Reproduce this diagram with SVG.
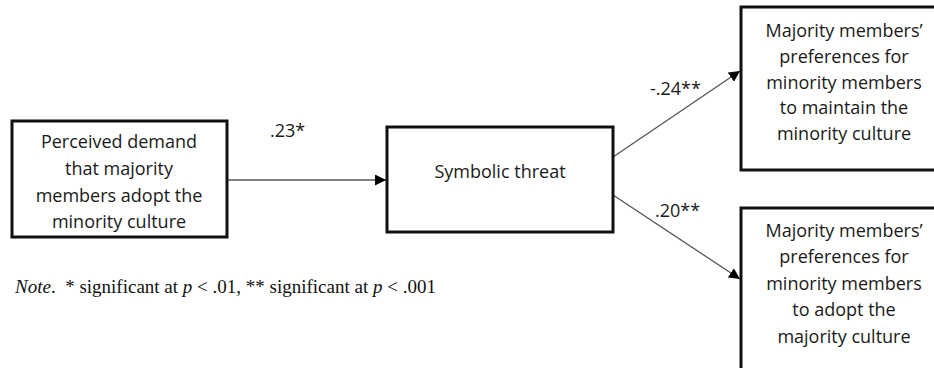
<svg xmlns="http://www.w3.org/2000/svg" width="934" height="368" viewBox="0 0 934 368">
<defs>
<marker id="arr" markerUnits="userSpaceOnUse" markerWidth="12" markerHeight="11" refX="11" refY="5.5" orient="auto">
<path d="M0,0 L11,5.5 L0,11 z" fill="#000"/>
</marker>
</defs>
<style>
.box{fill:#fff;stroke:#111;stroke-width:3}
.t{font-family:"Open Sans","Noto Sans",sans-serif;font-size:18px;fill:#1a1a1a;text-anchor:middle}
.lab{font-family:"Open Sans","Noto Sans",sans-serif;font-size:18px;fill:#1a1a1a}
.c{stroke:#555;stroke-width:1.3;fill:none;marker-end:url(#arr)}
.note{font-family:"Liberation Serif","Times New Roman",serif;font-size:19px;fill:#111}
</style>
<rect width="934" height="368" fill="#fff"/>
<g id="connectors">
<line class="c" x1="227" y1="180" x2="386" y2="180"/>
<line class="c" x1="613" y1="157" x2="740" y2="71"/>
<line class="c" x1="613" y1="195" x2="740" y2="279"/>
<text class="lab" x="270" y="137">.23*</text>
<text class="lab" x="650" y="95">-.24**</text>
<text class="lab" x="655" y="217">.20**</text>
</g>
<g id="demand">
<rect class="box" x="12" y="121" width="215" height="116"/>
<text class="t" x="119" y="148">Perceived demand</text>
<text class="t" x="119" y="175">that majority</text>
<text class="t" x="119" y="202">members adopt the</text>
<text class="t" x="119" y="228">minority culture</text>
</g>
<g id="threat">
<rect class="box" x="387" y="127" width="226" height="105"/>
<text class="t" x="500" y="178">Symbolic threat</text>
</g>
<g id="maintain">
<rect class="box" x="741" y="7" width="220" height="163"/>
<text class="t" x="844" y="37">Majority members’</text>
<text class="t" x="844" y="63">preferences for</text>
<text class="t" x="844" y="89">minority members</text>
<text class="t" x="844" y="114">to maintain the</text>
<text class="t" x="844" y="140">minority culture</text>
</g>
<g id="adopt">
<rect class="box" x="741" y="208" width="220" height="190"/>
<text class="t" x="844" y="237">Majority members’</text>
<text class="t" x="844" y="263">preferences for</text>
<text class="t" x="844" y="290">minority members</text>
<text class="t" x="844" y="316">to adopt the</text>
<text class="t" x="844" y="343">majority culture</text>
</g>
<text class="note" x="15" y="293" xml:space="preserve"><tspan font-style="italic">Note</tspan>.  * significant at <tspan font-style="italic">p</tspan> &lt; .01, ** significant at <tspan font-style="italic">p</tspan> &lt; .001</text>
</svg>
